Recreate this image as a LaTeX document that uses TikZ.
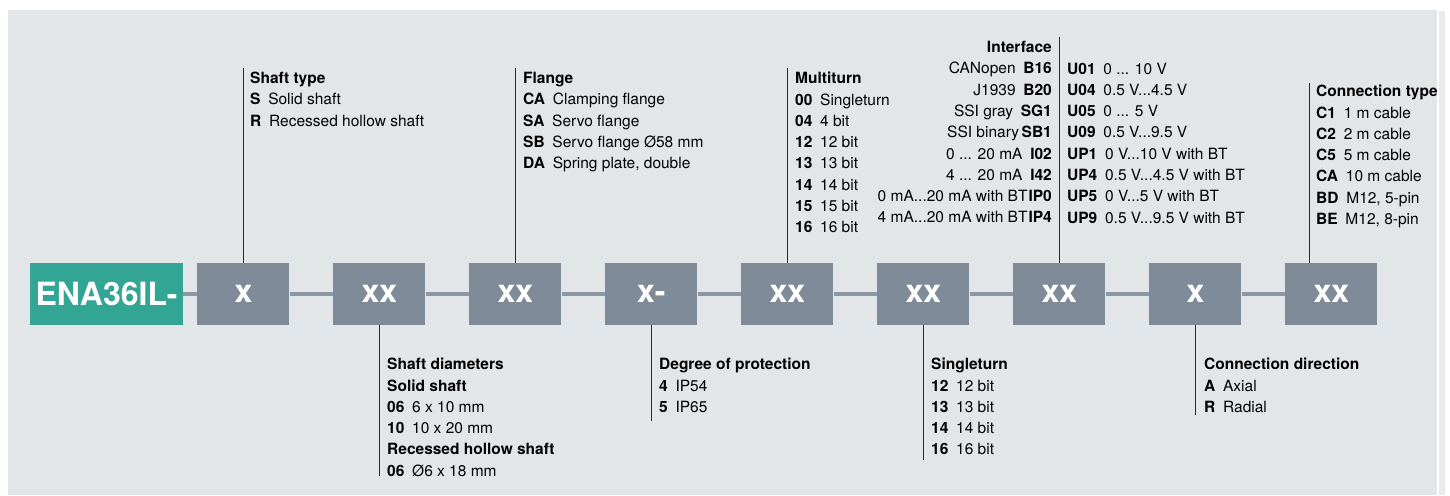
\documentclass[tikz,border=0pt]{standalone}
\usepackage{fontspec}
\setmainfont{TeX Gyre Heros}
\usepackage{tikz}
\usetikzlibrary{positioning}
\definecolor{paper}{HTML}{E3E6E9}
\definecolor{paperedge}{HTML}{E8EAEC}
\definecolor{brand}{HTML}{33A594}
\definecolor{slate}{HTML}{7F8B99}
\definecolor{railc}{HTML}{8D97A3}
\definecolor{ink}{HTML}{2A2A2A}
\newcommand\legendfont{\fontsize{15.5}{21.3}\selectfont}
\newcommand\fieldfont{\fontsize{32}{32}\selectfont\bfseries}

\begin{document}
\begin{tikzpicture}[x=1pt, y=-1pt,
  node distance=43.6pt,
  codebox/.style={fill=brand, minimum width=153pt, minimum height=62pt, inner sep=0pt, text=white, font=\fieldfont},
  field/.style={fill=slate, minimum width=92pt, minimum height=62pt, inner sep=0pt, text=white, font=\fieldfont},
  rail/.style={line width=4pt, color=railc},
  lead/.style={line width=1.3pt, color=ink},
  legend/.style={anchor=north west, inner sep=0pt, align=left, font=\legendfont},
  legendr/.style={anchor=north east, inner sep=0pt, align=right, font=\legendfont}
]
\useasboundingbox (0,0) rectangle (1450,495);
\fill[paper] (8,10) rectangle (1437,495);
\fill[paperedge] (1439,11) rectangle (1445,495);

% Order code row
\node[codebox] (code) at (106.5,294) {ENA36IL-};
\node[field, right=14pt of code] (shaft) {x};
\node[field, right=of shaft] (diam) {xx};
\node[field, right=of diam] (flange) {xx};
\node[field, right=of flange] (prot) {x-};
\node[field, right=of prot] (multi) {xx};
\node[field, right=of multi] (single) {xx};
\node[field, right=of single] (iface) {xx};
\node[field, right=of iface] (dir) {x};
\node[field, right=of dir] (conn) {xx};

\draw[rail] (code.east) -- (shaft.west) (shaft.east) -- (diam.west)
  (diam.east) -- (flange.west) (flange.east) -- (prot.west)
  (prot.east) -- (multi.west) (multi.east) -- (single.west)
  (single.east) -- (iface.west) (iface.east) -- (dir.west)
  (dir.east) -- (conn.west);

% Upper legends
\node[legend] (shafttxt) at (250,72) {\textbf{Shaft type}\\
  \textbf{S}\enspace Solid shaft\\
  \textbf{R}\enspace Recessed hollow shaft};
\node[legend] (flangetxt) at (523,72) {\textbf{Flange}\\
  \textbf{CA}\enspace Clamping flange\\
  \textbf{SA}\enspace Servo flange\\
  \textbf{SB}\enspace Servo flange Ø58 mm\\
  \textbf{DA}\enspace Spring plate, double};
\node[legend] (multitxt) at (795,72) {\textbf{Multiturn}\\
  \textbf{00}\enspace Singleturn\\
  \textbf{04}\enspace 4 bit\\
  \textbf{12}\enspace 12 bit\\
  \textbf{13}\enspace 13 bit\\
  \textbf{14}\enspace 14 bit\\
  \textbf{15}\enspace 15 bit\\
  \textbf{16}\enspace 16 bit};
\node[legendr] (ifacetxt) at (1052,41) {\textbf{Interface}\\
  CANopen\enspace\textbf{B16}\\
  J1939\enspace\textbf{B20}\\
  SSI gray\enspace\textbf{SG1}\\
  SSI binary\,\textbf{SB1}\\
  0 ... 20 mA\enspace\textbf{I02}\\
  4 ... 20 mA\enspace\textbf{I42}\\
  0 mA...20 mA with BT\kern1pt\textbf{IP0}\\
  4 mA...20 mA with BT\kern1pt\textbf{IP4}};
\node[legend] (volttxt) at (1067,62.5) {\textbf{U01}\enspace 0 ... 10 V\\
  \textbf{U04}\enspace 0.5 V...4.5 V\\
  \textbf{U05}\enspace 0 ... 5 V\\
  \textbf{U09}\enspace 0.5 V...9.5 V\\
  \textbf{UP1}\enspace 0 V...10 V with BT\\
  \textbf{UP4}\enspace 0.5 V...4.5 V with BT\\
  \textbf{UP5}\enspace 0 V...5 V with BT\\
  \textbf{UP9}\enspace 0.5 V...9.5 V with BT};
\node[legend] (conntxt) at (1316,85) {\textbf{Connection type}\\
  \textbf{C1}\enspace 1 m cable\\
  \textbf{C2}\enspace 2 m cable\\
  \textbf{C5}\enspace 5 m cable\\
  \textbf{CA}\enspace 10 m cable\\
  \textbf{BD}\enspace M12, 5-pin\\
  \textbf{BE}\enspace M12, 8-pin};

% Lower legends
\node[legend] (diamtxt) at (387,358) {\textbf{Shaft diameters}\\
  \textbf{Solid shaft}\\
  \textbf{06}\enspace 6 x 10 mm\\
  \textbf{10}\enspace 10 x 20 mm\\
  \textbf{Recessed hollow shaft}\\
  \textbf{06}\enspace Ø6 x 18 mm};
\node[legend] (prottxt) at (659,358) {\textbf{Degree of protection}\\
  \textbf{4}\enspace IP54\\
  \textbf{5}\enspace IP65};
\node[legend] (singletxt) at (931,358) {\textbf{Singleturn}\\
  \textbf{12}\enspace 12 bit\\
  \textbf{13}\enspace 13 bit\\
  \textbf{14}\enspace 14 bit\\
  \textbf{16}\enspace 16 bit};
\node[legend] (dirtxt) at (1204,358) {\textbf{Connection direction}\\
  \textbf{A}\enspace Axial\\
  \textbf{R}\enspace Radial};

% Leader lines
\draw[lead] (shaft.north) -- (shaft.north |- 0,68);
\draw[lead] (flange.north) -- (flange.north |- 0,68);
\draw[lead] (multi.north) -- (multi.north |- 0,68);
\draw[lead] (iface.north) -- (iface.north |- 0,37);
\draw[lead] ([xshift=-22pt]conn.north) -- ([xshift=-22pt]conn.north |- 0,83);
\draw[lead] (diam.south) -- (diam.south |- 0,476);
\draw[lead] (prot.south) -- (prot.south |- 0,421);
\draw[lead] (single.south) -- (single.south |- 0,460);
\draw[lead] (dir.south) -- (dir.south |- 0,415);
\end{tikzpicture}
\end{document}
